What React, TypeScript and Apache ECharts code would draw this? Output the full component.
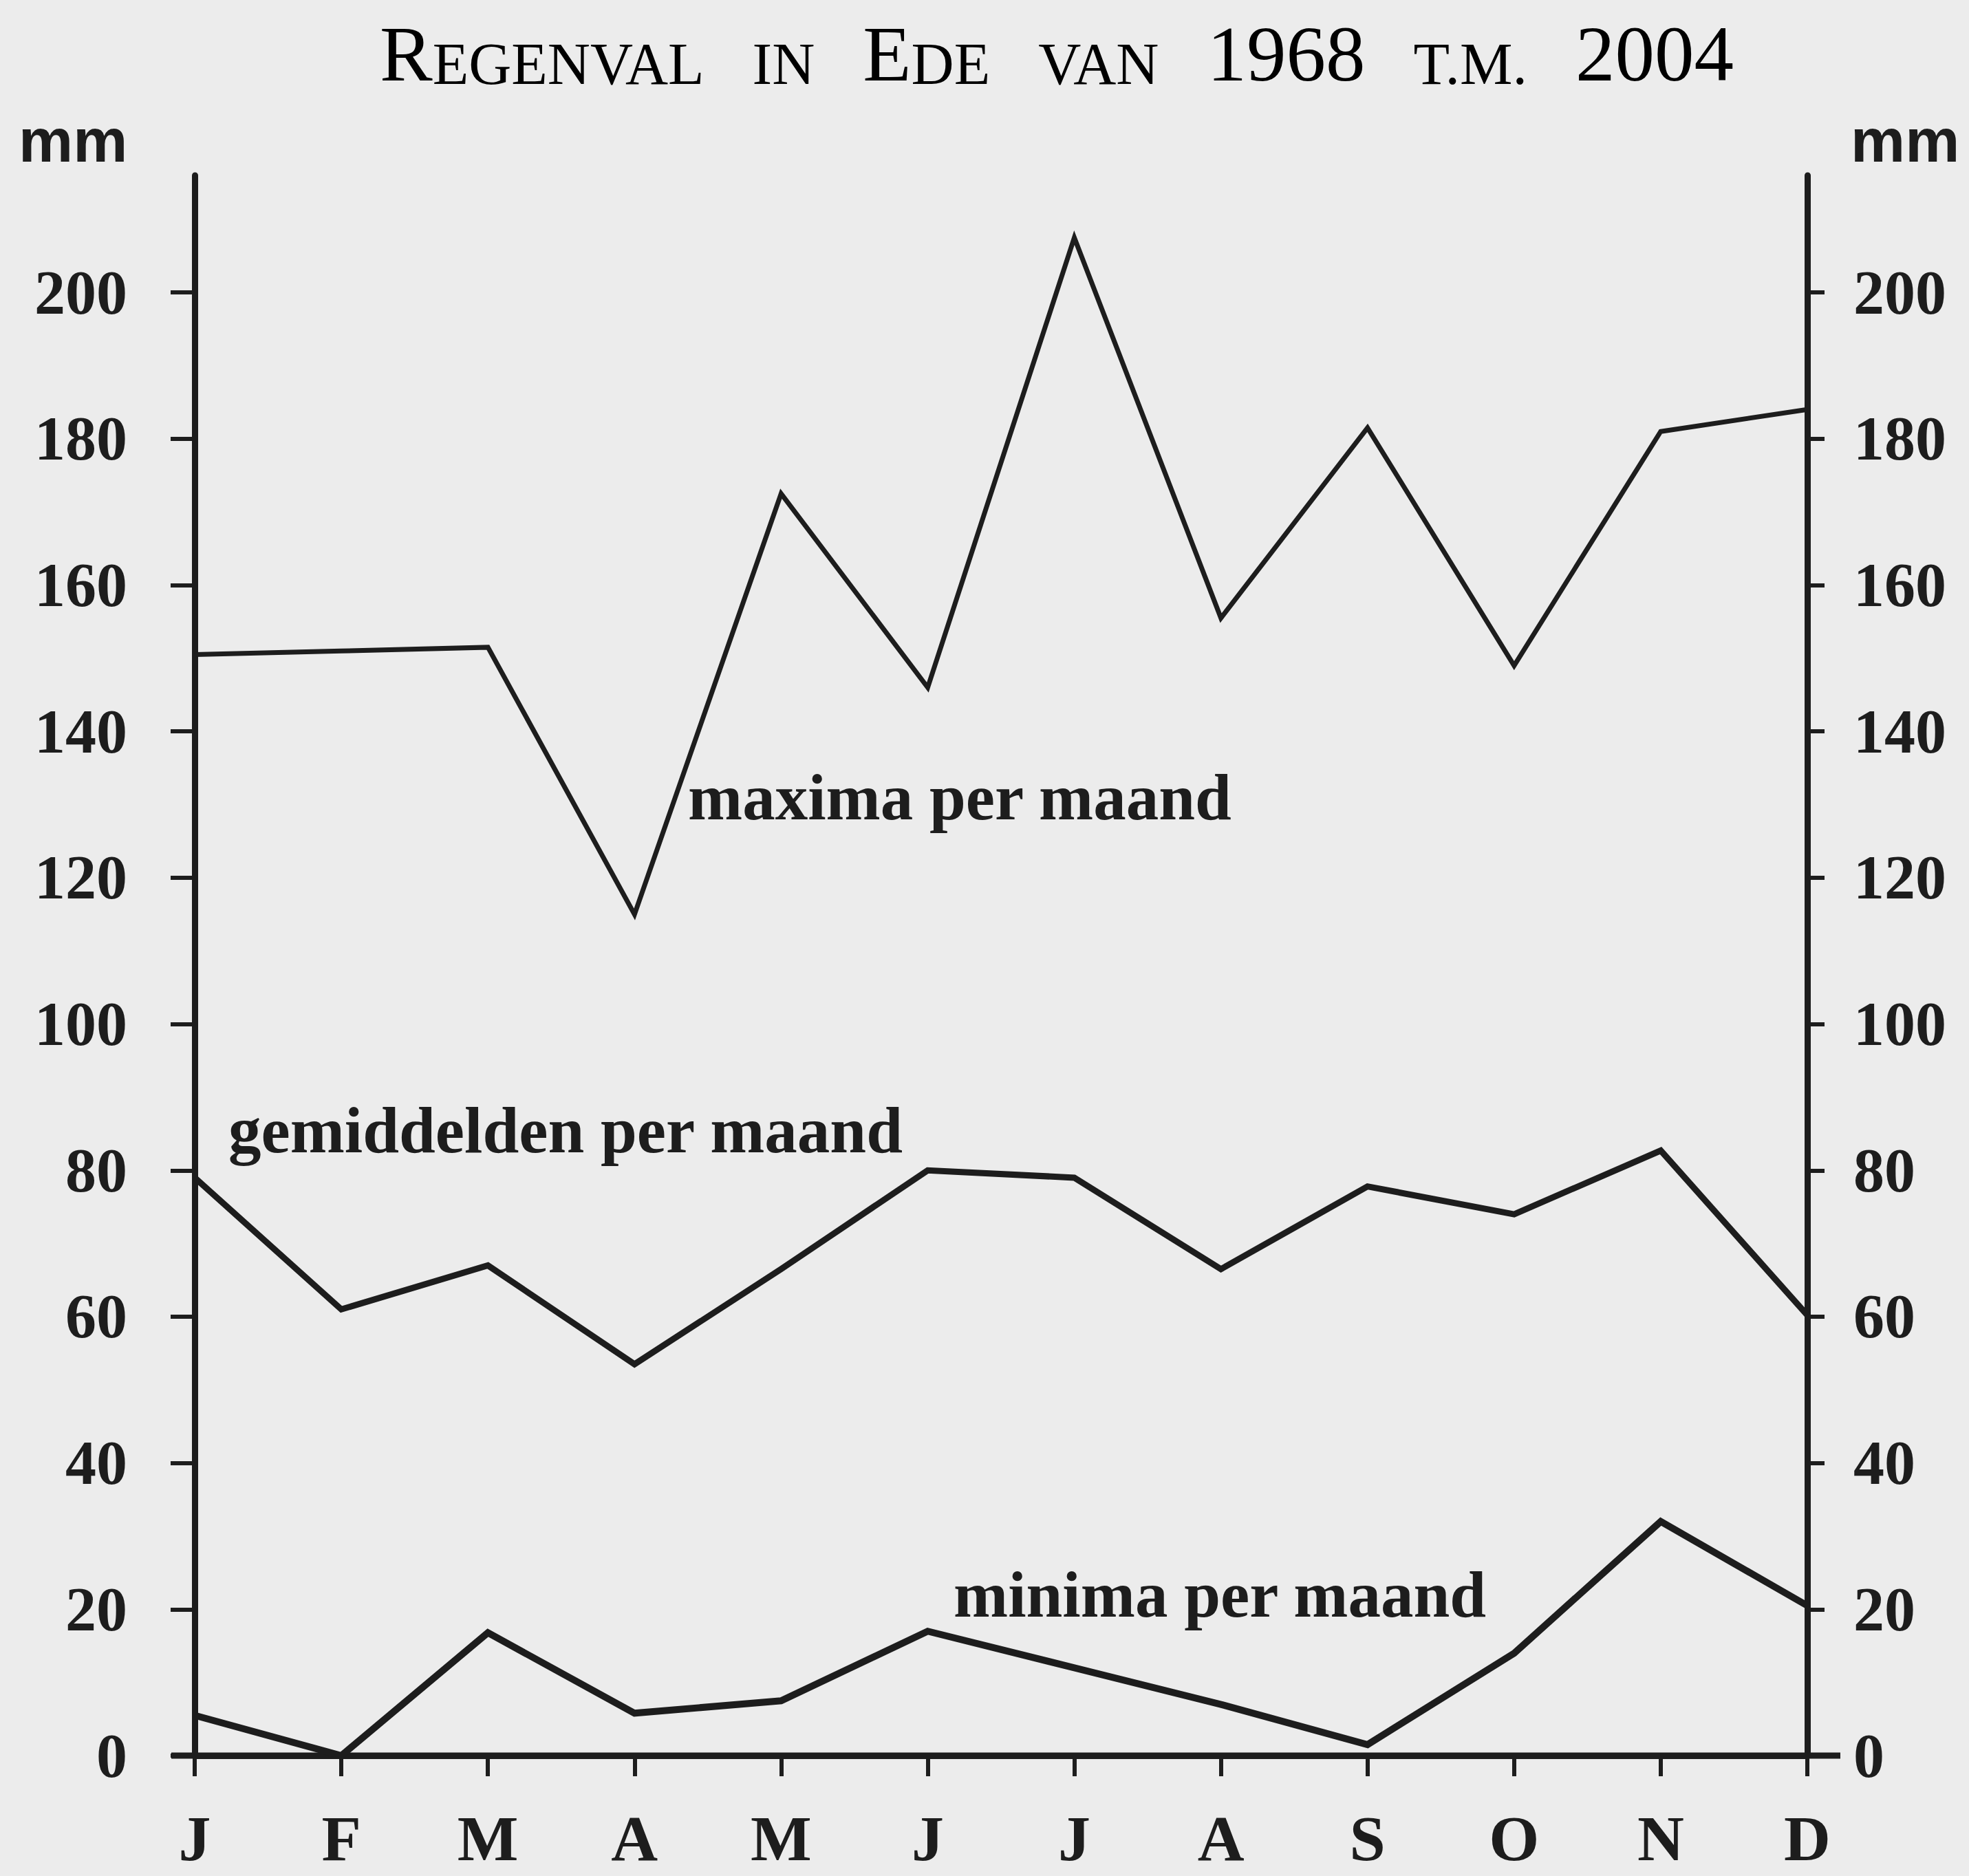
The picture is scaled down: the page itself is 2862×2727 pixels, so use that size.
import React, { useEffect, useRef } from "react";
import * as echarts from "echarts";

const months = ["J", "F", "M", "A", "M", "J", "J", "A", "S", "O", "N", "D"];
const maxima = [150.5, 151, 151.5, 115, 172.5, 146, 207.5, 155.5, 181.5, 149, 181, 184];
const means = [79, 61, 67, 53.5, 66.5, 80, 79, 66.5, 77.8, 74, 82.7, 60.2];
const minima = [5.5, 0, 16.8, 5.8, 7.5, 17, 12, 7, 1.5, 14, 32, 20.5];
const yTicks = [0, 20, 40, 60, 80, 100, 120, 140, 160, 180, 200];
const seriesNames = ["maxima per maand", "gemiddelden per maand", "minima per maand"];

const INK = "#1d1d1d";
const BG = "#ececec";

export default function App() {
  const ref = useRef<HTMLDivElement>(null);

  useEffect(() => {
    if (!ref.current) return;
    const chart = echarts.init(ref.current, undefined, { renderer: "svg" });

    const labelFont = {
      fontFamily: "Liberation Serif",
      fontWeight: "bold" as const,
      fontSize: 90,
      color: INK,
      padding: [0, 0, 40, 0],
    };

    const yAxisBase = (position: "left" | "right", tickLen: number, margin: number) => ({
      type: "value" as const,
      position,
      min: 0,
      max: 216,
      interval: 20,
      splitLine: { show: false },
      axisLine: { show: true, lineStyle: { color: INK, width: 9 } },
      axisTick: {
        show: true,
        inside: false,
        length: tickLen,
        lineStyle: { color: INK, width: 6 },
        customValues: yTicks,
      },
      axisLabel: { ...labelFont, margin, customValues: yTicks },
    });

    const annotationStyle = {
      fontFamily: "Liberation Serif",
      fontWeight: "bold",
      fontSize: 95,
      fill: INK,
      align: "left",
      verticalAlign: "middle",
    };

    const mmStyle = {
      text: "mm",
      fontFamily: "'Liberation Sans', sans-serif",
      fontWeight: "bold",
      fontSize: 89,
      fill: INK,
      align: "left",
      verticalAlign: "middle",
    };

    const sc = (fs: number) => ({
      fontFamily: "Liberation Serif",
      fontSize: fs,
      lineHeight: fs,
      color: "#2a2a2a",
      verticalAlign: "bottom",
    });

    const option: any = {
      animation: false,
      backgroundColor: BG,
      grid: { left: 283, right: 235, top: 255, bottom: 175, containLabel: false },
      xAxis: {
        type: "category",
        data: months,
        boundaryGap: false,
        axisLine: { show: true, onZero: false, lineStyle: { color: INK, width: 9 } },
        axisTick: { show: true, inside: false, length: 30, lineStyle: { color: INK, width: 6 } },
        axisLabel: {
          fontFamily: "Liberation Serif",
          fontWeight: "bold",
          fontSize: 94,
          lineHeight: 70,
          color: INK,
          margin: 85,
          interval: 0,
        },
        splitLine: { show: false },
      },
      yAxis: [yAxisBase("left", 35, 98), yAxisBase("right", 25, 67)],
      series: [
        {
          name: seriesNames[0],
          type: "line",
          data: maxima,
          symbol: "none",
          yAxisIndex: 0,
          lineStyle: { color: INK, width: 7, join: "miter", cap: "butt" },
        },
        {
          name: seriesNames[1],
          type: "line",
          data: means,
          symbol: "none",
          yAxisIndex: 0,
          lineStyle: { color: INK, width: 9, join: "miter", cap: "butt" },
        },
        {
          name: seriesNames[2],
          type: "line",
          data: minima,
          symbol: "none",
          yAxisIndex: 0,
          lineStyle: { color: INK, width: 10, join: "miter", cap: "butt" },
        },
      ],
      graphic: [
        {
          type: "text",
          x: 1536,
          y: 136,
          style: {
            text:
              "{b|R}{s|EGENVAL}{g| }{s|IN}{g| }{b|E}{s|DE}{g| }{s|VAN}{g| }{b|1968}{g| }{s|T.M.}{g| }{b|2004}",
            align: "center",
            verticalAlign: "bottom",
            rich: {
              b: sc(115),
              s: sc(86),
              g: { ...sc(86), width: 70 },
            },
          },
        },
        { type: "text", x: 27, y: 204, style: { ...mmStyle } },
        { type: "text", x: 2690, y: 204, style: { ...mmStyle } },
        { type: "text", x: 1000, y: 1159, style: { ...annotationStyle, text: seriesNames[0] } },
        { type: "text", x: 332, y: 1643, style: { ...annotationStyle, text: seriesNames[1] } },
        { type: "text", x: 1386, y: 2318, style: { ...annotationStyle, text: seriesNames[2] } },
      ],
    };

    chart.setOption(option);

    // extend the baseline a little beyond both vertical axes, as in the drawing
    const p0 = chart.convertToPixel({ gridIndex: 0 }, [0, 0]) as number[];
    const p1 = chart.convertToPixel({ gridIndex: 0 }, [months.length - 1, 0]) as number[];
    if (p0 && p1) {
      chart.setOption({
        graphic: [
          ...option.graphic,
          {
            type: "line",
            shape: { x1: p0[0] - 34, y1: p0[1], x2: p1[0] + 48, y2: p1[1] },
            style: { stroke: INK, lineWidth: 9 },
          },
        ],
      });
    }

    return () => chart.dispose();
  }, []);

  return (
    <div
      ref={ref}
      style={{ position: "absolute", left: 0, top: 0, width: 2862, height: 2727 }}
    />
  );
}
